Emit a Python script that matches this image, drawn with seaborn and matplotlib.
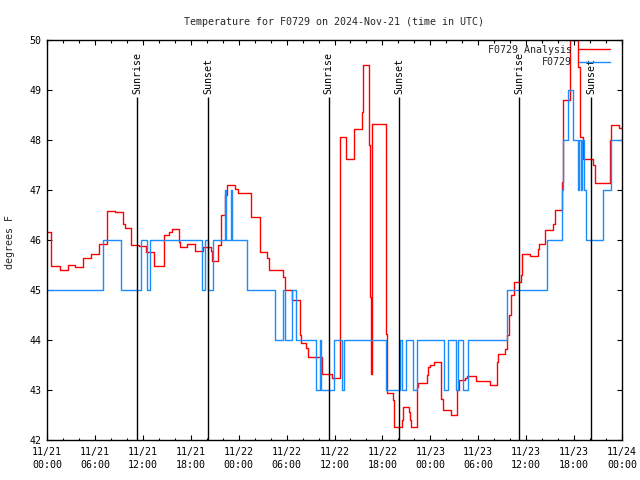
import numpy as np
import pandas as pd
import matplotlib
matplotlib.use("Agg")
import matplotlib.pyplot as plt
import seaborn as sns
from matplotlib.ticker import MultipleLocator

# ---- data (hours since 2024-11-21 00:00 UTC, degrees F) ----
red_hours = [0.0, 0.56, 1.57, 2.57, 3.50, 4.57, 5.51, 6.57, 7.51, 8.51, 9.52, 9.77,
             10.58, 11.46, 12.40, 13.34, 14.59, 15.28, 15.59, 16.47, 16.65, 17.53,
             18.53, 19.53, 20.54, 20.66, 21.47, 21.73, 22.29, 22.60, 23.54, 23.90,
             25.60, 26.61, 27.61, 27.80, 29.55, 29.74, 30.62, 31.62, 31.80, 32.43,
             32.68, 34.43, 35.69, 36.65, 37.38, 37.50, 38.50, 39.44, 39.53, 39.63,
             40.32, 40.45, 40.57, 40.70, 42.44, 42.57, 43.33, 43.45, 44.45, 44.57,
             45.33, 45.45, 45.64, 46.33, 46.46, 47.52, 47.77, 48.02, 48.46, 49.34,
             49.59, 50.53, 51.28, 51.40, 51.53, 52.40, 52.59, 53.66, 55.47, 56.41,
             56.53, 57.35, 57.54, 57.85, 58.16, 58.47, 59.35, 59.54, 60.54, 61.42,
             61.61, 62.42, 63.42, 63.61, 64.43, 64.55, 64.61, 65.54, 66.43, 66.68,
             66.80, 67.11, 68.37, 68.62, 70.44, 70.62, 71.63, 72.0]
red_temps = [46.17, 45.49, 45.40, 45.51, 45.47, 45.65, 45.73, 45.92, 46.59, 46.57, 46.33, 46.25,
             45.91, 45.89, 45.77, 45.49, 46.11, 46.16, 46.23, 45.97, 45.87, 45.92,
             45.78, 45.87, 45.78, 45.59, 45.90, 46.50, 46.90, 47.10, 47.02, 46.95,
             46.47, 45.76, 45.65, 45.40, 45.27, 45.00, 44.80, 44.10, 43.95, 43.85,
             43.66, 43.33, 43.25, 48.07, 47.73, 47.62, 48.23, 48.57, 49.17, 49.50,
             47.90, 44.87, 43.33, 48.33, 44.13, 42.95, 42.81, 42.27, 42.40, 42.67,
             42.57, 42.40, 42.27, 43.07, 43.15, 43.30, 43.47, 43.51, 43.57, 42.83,
             42.60, 42.51, 42.80, 43.00, 43.20, 43.25, 43.28, 43.19, 43.10, 43.57,
             43.73, 43.83, 44.10, 44.50, 44.90, 45.17, 45.30, 45.73, 45.68, 45.83,
             45.93, 46.20, 46.33, 46.60, 47.17, 48.27, 48.80, 50.00, 49.47, 48.67,
             48.07, 47.63, 47.50, 47.15, 48.00, 48.31, 48.25, 48.25]

blue_hours = [0.0, 6.95, 9.27, 11.71, 12.46, 12.84, 19.47, 19.78, 20.16, 20.79, 22.23,
              22.42, 22.98, 23.17, 25.10, 28.49, 29.61, 29.86, 30.74, 31.18, 33.74,
              34.18, 34.37, 35.88, 36.88, 37.25, 42.51, 44.14, 44.51, 45.00, 45.89,
              46.27, 49.65, 50.15, 51.21, 51.46, 52.15, 52.72, 57.66, 62.67, 64.49,
              64.61, 65.30, 65.87, 66.50, 66.62, 66.87, 67.00, 67.18, 67.55, 69.56,
              70.68, 72.0]
blue_temps = [45, 46, 45, 46, 45, 46, 45, 46, 45, 46, 47,
              46, 47, 46, 45, 44, 45, 44, 45, 44, 43,
              44, 43, 44, 43, 44, 43, 44, 43, 44, 43,
              44, 43, 44, 43, 44, 43, 44, 45, 46, 47,
              48, 49, 48, 47, 48, 47, 48, 47, 46, 47,
              48, 48]

sun_hours = [11.27, 20.20, 35.25, 44.11, 59.14, 68.12]
sun_labels = ["Sunrise", "Sunset", "Sunrise", "Sunset", "Sunrise", "Sunset"]

tick_hours = [0, 6, 12, 18, 24, 30, 36, 42, 48, 54, 60, 66, 72]
tick_labels = ["11/21\n00:00", "11/21\n06:00", "11/21\n12:00", "11/21\n18:00",
               "11/22\n00:00", "11/22\n06:00", "11/22\n12:00", "11/22\n18:00",
               "11/23\n00:00", "11/23\n06:00", "11/23\n12:00", "11/23\n18:00",
               "11/24\n00:00"]

title = "Temperature for F0729 on 2024-Nov-21 (time in UTC)"

# ---- style ----
sns.set_theme(style="ticks")
plt.rcParams["font.family"] = ["DejaVu Sans Mono"]
plt.rcParams["font.size"] = 7.2

fig = plt.figure(figsize=(6.4, 4.8), dpi=100)
ax = fig.add_axes([47 / 640, 40 / 480, 575 / 640, 400 / 480])

df_red = pd.DataFrame({"hour": red_hours, "temp": red_temps})
df_blue = pd.DataFrame({"hour": blue_hours, "temp": blue_temps})

sns.lineplot(data=df_red, x="hour", y="temp", ax=ax, color="#ff0000", lw=1.0,
             drawstyle="steps-post", estimator=None, label="F0729 Analysis")
sns.lineplot(data=df_blue, x="hour", y="temp", ax=ax, color="#1a8cff", lw=1.0,
             drawstyle="steps-post", estimator=None, label="F0729")

ax.vlines(sun_hours, 42, 48.86, colors="black", lw=1.0)
for h, lab in zip(sun_hours, sun_labels):
    ax.text(h, 48.93, lab, rotation=90, ha="center", va="bottom", fontsize=7.2,
            color="black")

ax.set_xlim(0, 72)
ax.set_ylim(42, 50)
ax.set_xticks(tick_hours, tick_labels, linespacing=1.4)
ax.xaxis.set_minor_locator(MultipleLocator(2))
ax.yaxis.set_major_locator(MultipleLocator(1))
ax.tick_params(which="both", direction="in", top=True, right=True, colors="black",
               labelsize=7.2)
ax.tick_params(which="major", length=3.6, width=0.8)
ax.tick_params(which="minor", length=1.8, width=0.8)
ax.tick_params(axis="x", pad=5)
ax.tick_params(axis="y", pad=4)
for s in ax.spines.values():
    s.set_color("black")
    s.set_linewidth(1.0)

ax.set_xlabel("")
ax.set_ylabel("degrees F", fontsize=7.2)
ax.yaxis.set_label_coords(-0.055, 0.495)
ax.set_title(title, fontsize=7.2, pad=11)

ax.legend(loc="upper right", bbox_to_anchor=(0.979, 0.9875), frameon=False,
          markerfirst=False, fontsize=7.2, handlelength=3.1, handletextpad=0.7,
          labelspacing=0.25, borderpad=0, borderaxespad=0)

fig.savefig("out.png", dpi=100)
